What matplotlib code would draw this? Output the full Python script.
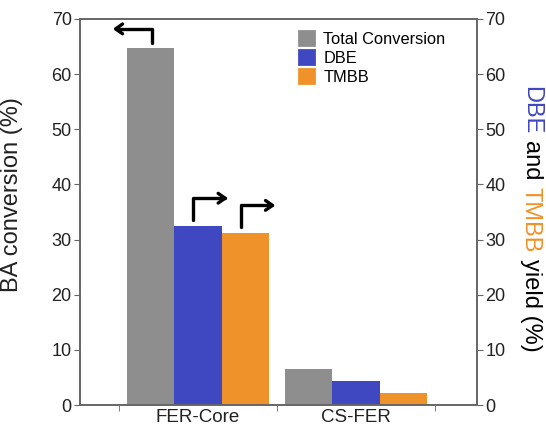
import numpy as np
import matplotlib
matplotlib.use("Agg")
import matplotlib.pyplot as plt
from matplotlib.patches import Patch

plt.rcParams['font.family'] = ['Liberation Sans', 'DejaVu Sans']

# data
catalysts = ['FER-Core', 'CS-FER']
total_conv = [64.8, 6.5]
dbe_yield = [32.5, 4.3]
tmbb_yield = [31.2, 2.1]
series_names = ['Total Conversion', 'DBE', 'TMBB']

gray = '#8e8e8e'
blue = '#3f48c0'
orange = '#f0922a'
axcol = '#666666'
txtcol = '#222222'

fig = plt.figure(figsize=(5.46, 4.28), dpi=100)
ax = fig.add_axes([0.1465, 0.0537, 0.727, 0.902])

x = np.arange(len(catalysts))
w = 0.3
ax.bar(x - w, total_conv, w, color=gray)
ax.bar(x, dbe_yield, w, color=blue)
ax.bar(x + w, tmbb_yield, w, color=orange)

ax.set_xlim(-0.747, 1.766)
ax.set_ylim(0, 70)
ax.set_yticks(np.arange(0, 71, 10))
ax.set_xticks(x)
ax.set_xticklabels(catalysts, fontsize=13.5, color=txtcol)
ax.set_xticks([-0.5, 0.5, 1.5], minor=True)
ax.tick_params(axis='x', which='major', length=0, pad=3)
ax.tick_params(axis='x', which='minor', length=4, color=axcol, direction='out')
ax.tick_params(axis='y', length=4, color=axcol, labelsize=13, labelcolor=txtcol, pad=2)
for s in ax.spines.values():
    s.set_color(axcol)
    s.set_linewidth(1.2)
ax.set_ylabel('BA conversion (%)', fontsize=17, color=txtcol)
ax.yaxis.set_label_coords(23 / 546, 1 - 195 / 428, transform=fig.transFigure)

ax2 = ax.twinx()
ax2.set_ylim(0, 70)
ax2.set_yticks(np.arange(0, 71, 10))
ax2.tick_params(axis='y', length=4, color=axcol, labelsize=13, labelcolor=txtcol, pad=2)
for s in ax2.spines.values():
    s.set_color(axcol)
    s.set_linewidth(1.2)

# bent arrows showing which axis each series belongs to
arrow_kw = dict(arrowstyle='->,head_length=0.5,head_width=0.35', lw=2.4, color='black',
                connectionstyle='angle,angleA=90,angleB=0,rad=0', shrinkA=0, shrinkB=0)
ax.annotate('', xy=(x[0] - w - 0.24, total_conv[0] + 3.4), xytext=(x[0] - w + 0.01, total_conv[0] + 0.8),
            arrowprops=arrow_kw)
ax.annotate('', xy=(x[0] + 0.19, dbe_yield[0] + 5.0), xytext=(x[0] - 0.03, dbe_yield[0] + 1.0),
            arrowprops=arrow_kw)
ax.annotate('', xy=(x[0] + w + 0.19, tmbb_yield[0] + 5.0), xytext=(x[0] + w - 0.03, tmbb_yield[0] + 1.0),
            arrowprops=arrow_kw)

handles = [Patch(facecolor=c, edgecolor=c, linewidth=2, joinstyle='round') for c in (gray, blue, orange)]
ax.legend(handles, series_names, loc='upper left', bbox_to_anchor=(0.535, 0.985), frameon=False,
          fontsize=11.8, handlelength=0.9, handleheight=0.9, handletextpad=0.6, labelspacing=0.22,
          borderaxespad=0)

# right label in three colours, written top to bottom
parts = [('DBE', blue), ('and', 'black'), ('TMBB', orange), ('yield (%)', 'black')]
fig.canvas.draw()
r = fig.canvas.get_renderer()
texts = [fig.text(0, 0, s, color=c, fontsize=17, rotation=270, ha='center', va='top') for s, c in parts]
heights = [t.get_window_extent(r).height for t in texts]
gap = 0.28 * 17 * fig.dpi / 72
total = sum(heights) + gap * (len(parts) - 1)
ycur = (1 - 219 / 428) * fig.bbox.height + total / 2
xc = 0.972 * fig.bbox.width
for t, h in zip(texts, heights):
    t.set_transform(None)
    t.set_position((xc, ycur))
    ycur -= h + gap

fig.savefig('out.png', dpi=100)
